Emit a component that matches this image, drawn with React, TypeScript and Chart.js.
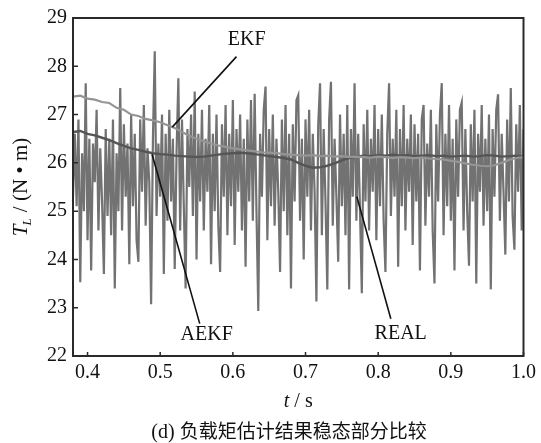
import React, { useEffect, useRef } from "react";
import { Chart, registerables } from "chart.js";

Chart.register(...registerables);

// ---------- data ----------
const X_TICKS = [0.4, 0.5, 0.6, 0.7, 0.8, 0.9, 1.0];
const Y_TICKS = [22, 23, 24, 25, 26, 27, 28, 29];

// REAL load torque, sampled every 2.5 ms from t = 0.38 s
const REAL_T0 = 0.38;
const REAL_DT = 0.0025;
const REAL = [
  25.3, 26.6, 25.1, 26.9, 23.53, 26.2, 25.0, 27.65, 24.4, 26.5,
  23.77, 26.4, 25.6, 27.1, 24.6, 26.3, 25.2, 23.7, 26.7, 24.9,
  26.5, 24.5, 26.9, 23.4, 26.2, 25.0, 27.55, 24.6, 26.8, 25.3,
  26.4, 23.9, 27.0, 25.1, 26.6, 24.4, 23.95, 26.9, 25.4, 27.2,
  24.7, 26.3, 25.6, 23.07, 26.5, 28.31, 24.9, 26.4, 25.3, 27.0,
  23.7, 26.6, 24.8, 27.1, 25.2, 26.5, 23.8, 26.2, 27.75, 24.6,
  26.9, 25.1, 23.4, 26.7, 25.5, 27.0, 24.9, 27.48, 24.0, 26.6,
  25.2, 27.1, 24.6, 26.5, 25.4, 27.2, 23.9, 26.6, 25.0, 27.0,
  24.7, 23.74, 26.8, 25.3, 27.2, 24.5, 26.6, 25.1, 27.3, 24.3,
  26.7, 25.4, 27.0, 24.6, 26.5, 23.85, 26.9, 25.2, 27.3, 24.8,
  27.43, 25.0, 22.93, 26.6, 25.3, 27.1, 27.58, 24.4, 26.7, 25.1,
  27.0, 24.7, 26.5, 25.4, 23.74, 26.9, 25.0, 27.2, 24.5, 26.6,
  23.4, 26.8, 25.2, 27.3, 27.4, 24.8, 26.5, 24.0, 26.9, 25.3,
  27.1, 24.6, 26.6, 25.4, 23.13, 26.8, 27.65, 24.5, 26.7, 25.2,
  23.38, 26.9, 27.68, 24.7, 26.5, 25.3, 23.95, 27.0, 25.1, 26.6,
  24.5, 27.2, 23.38, 26.7, 25.3, 27.65, 24.8, 26.6, 25.0, 23.3,
  26.8, 25.2, 27.1, 24.6, 26.5, 25.4, 27.2, 24.4, 26.7, 25.1,
  27.0, 24.8, 23.74, 26.6, 27.65, 24.9, 26.5, 25.3, 27.1, 23.85,
  26.7, 25.1, 27.2, 24.6, 26.5, 25.4, 27.0, 24.3, 26.8, 25.2,
  26.6, 23.77, 26.9, 27.2, 24.7, 26.4, 25.3, 27.1, 24.6, 23.5,
  26.8, 25.2, 27.0, 27.65, 24.5, 26.6, 25.1, 27.2, 24.8, 26.5,
  23.77, 26.9, 25.3, 27.1, 27.25, 24.6, 26.7, 25.0, 23.87, 26.8,
  25.2, 27.1, 23.5, 26.6, 25.4, 27.2, 24.7, 26.5, 25.0, 27.0,
  23.38, 26.7, 25.3, 27.1, 27.42, 24.8, 26.6, 25.4, 24.1, 26.9,
  25.2, 27.55, 24.9, 24.2, 26.8, 25.4, 27.2, 24.6, 26.7,
];

const EST_T = [
  0.38, 0.39, 0.40, 0.41, 0.42, 0.43, 0.44, 0.45, 0.46, 0.47,
  0.48, 0.49, 0.50, 0.51, 0.52, 0.53, 0.54, 0.55, 0.56, 0.57,
  0.58, 0.59, 0.60, 0.61, 0.62, 0.63, 0.64, 0.65, 0.66, 0.67,
  0.68, 0.69, 0.70, 0.71, 0.72, 0.73, 0.74, 0.75, 0.76, 0.77,
  0.78, 0.79, 0.80, 0.81, 0.82, 0.83, 0.84, 0.85, 0.86, 0.87,
  0.88, 0.89, 0.90, 0.91, 0.92, 0.93, 0.94, 0.95, 0.96, 0.97,
  0.98, 0.99, 1.00,
];

const EKF = [
  27.37, 27.39, 27.33, 27.31, 27.26, 27.24, 27.14, 27.1, 27.0, 26.97,
  26.91, 26.88, 26.84, 26.78, 26.72, 26.64, 26.56, 26.5, 26.45, 26.4,
  26.36, 26.33, 26.3, 26.28, 26.26, 26.24, 26.22, 26.21, 26.2, 26.18,
  26.17, 26.16, 26.15, 26.16, 26.14, 26.15, 26.13, 26.14, 26.12, 26.13,
  26.12, 26.11, 26.13, 26.12, 26.1, 26.12, 26.11, 26.1, 26.11, 26.09,
  26.08, 26.07, 26.04, 26.02, 25.99, 25.96, 25.94, 25.93, 25.95, 26.0,
  26.06, 26.1, 26.12,
];

const AEKF = [
  26.64, 26.66, 26.6, 26.57, 26.52, 26.47, 26.41, 26.35, 26.3, 26.27,
  26.23, 26.2, 26.18, 26.17, 26.15, 26.14, 26.13, 26.12, 26.13, 26.15,
  26.17, 26.19, 26.2, 26.21, 26.2, 26.18, 26.16, 26.14, 26.12, 26.1,
  26.07, 26.0, 25.94, 25.9, 25.91, 25.94, 25.99, 26.05, 26.1, 26.13,
  26.15, 26.14, 26.16, 26.15, 26.17, 26.15, 26.16, 26.14, 26.15, 26.16,
  26.14, 26.15, 26.13, 26.14, 26.15, 26.13, 26.14, 26.16, 26.15, 26.13,
  26.14, 26.15, 26.13,
];

// annotation labels: text, label anchor (t, value), leader line from -> to (t, value)
const ANNO_TEXT = ["EKF", "AEKF", "REAL"];
const ANNO_AT = [
  [0.619, 28.54],
  [0.564, 22.43],
  [0.831, 22.46],
];
const ANNO_LINE = [
  [0.605, 28.2, 0.5166, 26.74],
  [0.4888, 26.18, 0.5544, 22.67],
  [0.7706, 25.3, 0.8174, 22.77],
];

const CAPTION_PREFIX = "(d) ";
const CAPTION = "负载矩估计结果稳态部分比较";

const SERIF = "'Liberation Serif', 'Times New Roman', serif";
const CJK = "'Noto Sans CJK SC', 'Noto Sans CJK JP', sans-serif";

const decorPlugin = {
  id: "decor",
  afterDatasetsDraw(chart: any) {
    const { ctx, chartArea: a, scales } = chart;
    const xs = scales.x;
    const ys = scales.y;
    ctx.save();
    // annotations
    ctx.strokeStyle = "#111";
    ctx.lineWidth = 1.6;
    ctx.fillStyle = "#111";
    ctx.font = `20px ${SERIF}`;
    ctx.textAlign = "center";
    ctx.textBaseline = "middle";
    for (let i = 0; i < ANNO_TEXT.length; i++) {
      const l = ANNO_LINE[i];
      ctx.beginPath();
      ctx.moveTo(xs.getPixelForValue(l[0]), ys.getPixelForValue(l[1]));
      ctx.lineTo(xs.getPixelForValue(l[2]), ys.getPixelForValue(l[3]));
      ctx.stroke();
      ctx.fillText(
        ANNO_TEXT[i],
        xs.getPixelForValue(ANNO_AT[i][0]),
        ys.getPixelForValue(ANNO_AT[i][1])
      );
    }
    // frame
    ctx.strokeStyle = "#2a2a2a";
    ctx.lineWidth = 2;
    ctx.strokeRect(a.left, a.top, a.right - a.left, a.bottom - a.top);
    // inward ticks
    ctx.lineWidth = 1.5;
    ctx.beginPath();
    for (const v of X_TICKS) {
      const px = xs.getPixelForValue(v);
      ctx.moveTo(px, a.bottom);
      ctx.lineTo(px, a.bottom - 4);
    }
    for (const v of Y_TICKS) {
      const py = ys.getPixelForValue(v);
      ctx.moveTo(a.left, py);
      ctx.lineTo(a.left + 5, py);
    }
    ctx.stroke();

    // x title "t / s"
    ctx.fillStyle = "#111";
    ctx.textBaseline = "alphabetic";
    const cx = (a.left + a.right) / 2;
    const ty = 407;
    ctx.font = `italic 20px ${SERIF}`;
    const wT = ctx.measureText("t").width;
    ctx.font = `20px ${SERIF}`;
    const wR = ctx.measureText(" / s").width;
    const sx = cx - (wT + wR) / 2;
    ctx.textAlign = "left";
    ctx.font = `italic 20px ${SERIF}`;
    ctx.fillText("t", sx, ty);
    ctx.font = `20px ${SERIF}`;
    ctx.fillText(" / s", sx + wT, ty);

    // caption
    ctx.font = `20px ${SERIF}`;
    const wp = ctx.measureText(CAPTION_PREFIX).width;
    ctx.font = `19px ${CJK}`;
    const wc = ctx.measureText(CAPTION).width;
    const cs = 289 - (wp + wc) / 2;
    ctx.font = `20px ${SERIF}`;
    ctx.fillText(CAPTION_PREFIX, cs, 438);
    ctx.font = `19px ${CJK}`;
    ctx.fillText(CAPTION, cs + wp, 438);

    // y title "T_L / (N • m)"
    ctx.save();
    ctx.translate(27, (a.top + a.bottom) / 2);
    ctx.rotate(-Math.PI / 2);
    ctx.font = `italic 21px ${SERIF}`;
    const w1 = ctx.measureText("T").width;
    ctx.font = `italic 13px ${SERIF}`;
    const w2 = ctx.measureText("L").width;
    ctx.font = `21px ${SERIF}`;
    const w3 = ctx.measureText(" / (N • m)").width;
    let p = -(w1 + w2 + w3) / 2;
    ctx.textAlign = "left";
    ctx.font = `italic 21px ${SERIF}`;
    ctx.fillText("T", p, 0);
    p += w1;
    ctx.font = `italic 13px ${SERIF}`;
    ctx.fillText("L", p - 1, 4);
    p += w2;
    ctx.font = `21px ${SERIF}`;
    ctx.fillText(" / (N • m)", p, 0);
    ctx.restore();

    ctx.restore();
  },
};

export default function App() {
  const ref = useRef<HTMLCanvasElement | null>(null);
  useEffect(() => {
    if (!ref.current) return;
    const real = REAL.map((v, i) => ({ x: REAL_T0 + i * REAL_DT, y: v }));
    const ekf = EKF.map((v, i) => ({ x: EST_T[i], y: v }));
    const aekf = AEKF.map((v, i) => ({ x: EST_T[i], y: v }));
    const chart = new Chart(ref.current, {
      type: "line",
      data: {
        datasets: [
          {
            label: "EKF",
            data: ekf,
            borderColor: "#959595",
            borderWidth: 2.2,
            pointRadius: 0,
            tension: 0,
          },
          {
            label: "AEKF",
            data: aekf,
            borderColor: "#555555",
            borderWidth: 2.4,
            pointRadius: 0,
            tension: 0,
          },
          {
            label: "REAL",
            data: real,
            borderColor: "#727272",
            borderWidth: 2.2,
            pointRadius: 0,
            tension: 0,
          },
        ],
      },
      options: {
        responsive: false,
        animation: false,
        events: [],
        layout: { padding: { top: 10, right: 14, left: 0, bottom: 0 } },
        plugins: {
          legend: { display: false },
          tooltip: { enabled: false },
          title: { display: false },
        },
        scales: {
          x: {
            type: "linear",
            min: 0.38,
            max: 1.0,
            afterBuildTicks: (s: any) => {
              s.ticks = X_TICKS.map((v) => ({ value: v }));
            },
            afterFit: (s: any) => {
              s.height = 87;
            },
            grid: { display: false, drawTicks: false },
            border: { display: false },
            ticks: {
              padding: 5,
              color: "#111",
              font: { family: SERIF, size: 20 },
              maxRotation: 0,
              callback: (v: any) => Number(v).toFixed(1),
            },
          },
          y: {
            type: "linear",
            min: 22,
            max: 29,
            afterBuildTicks: (s: any) => {
              s.ticks = Y_TICKS.map((v) => ({ value: v }));
            },
            afterFit: (s: any) => {
              s.width = 73;
            },
            grid: { display: false, drawTicks: false },
            border: { display: false },
            ticks: {
              padding: 6,
              color: "#111",
              font: { family: SERIF, size: 20 },
              callback: (v: any) => String(v),
            },
          },
        },
      },
      plugins: [decorPlugin],
    });
    return () => chart.destroy();
  }, []);
  return (
    <div style={{ position: "absolute", left: 0, top: 0, width: 541, height: 443, background: "#fff" }}>
      <canvas ref={ref} width={541} height={443} style={{ width: 541, height: 443 }} />
    </div>
  );
}
